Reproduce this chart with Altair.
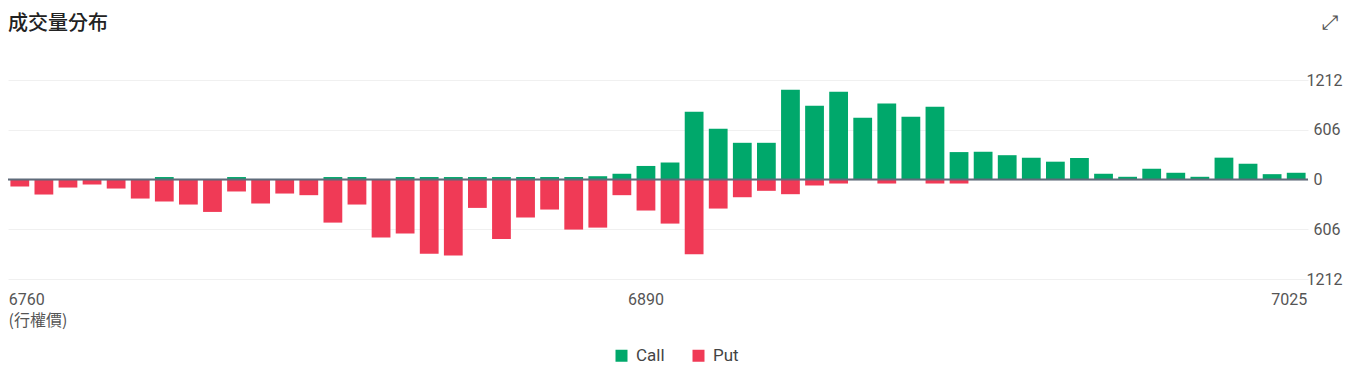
import altair as alt
import pandas as pd

strikes = list(range(6760, 7030, 5))
call_volume = [0, 0, 0, 0, 0, 0, 30, 0, 0, 30,
               0, 0, 0, 30, 30, 0, 30, 30, 30, 30,
               30, 30, 30, 30, 40, 70, 165, 207, 826, 618,
               447, 447, 1094, 899, 1070, 752, 927, 765, 887, 334,
               338, 296, 266, 217, 262, 70, 33, 131, 82, 33,
               266, 192, 65, 82]
put_volume = [85, 183, 98, 61, 110, 232, 268, 305, 395, 146,
              293, 171, 191, 525, 305, 708, 659, 903, 927, 346,
              724, 464, 366, 610, 586, 191, 378, 537, 911, 354,
              216, 138, 179, 73, 49, 0, 49, 0, 49, 49,
              0, 0, 0, 0, 0, 0, 0, 0, 0, 0,
              0, 0, 0, 0]
y_ticks = [-1212, -606, 0, 606, 1212]
x_label_values = [6760, 6890, 7025]
series = ["Call", "Put"]
series_colors = ["#00a86b", "#f03a56"]
title_text = ["成交量分布"]
icon_text = ["⤢"]

rows = []
for s, c, p in zip(strikes, call_volume, put_volume):
    rows.append({"strike": s, "type": "Call", "volume": c})
    rows.append({"strike": s, "type": "Put", "volume": -p})
df = pd.DataFrame(rows)

W, H = 1300, 199

x_enc = alt.X(
    "strike:O",
    sort="ascending",
    scale=alt.Scale(paddingInner=0.22, paddingOuter=0.1),
    axis=alt.Axis(
        values=x_label_values, title="(行權價)", labelAngle=0, ticks=False, tickSize=0,
        domain=False, grid=False, labelFont="Roboto", labelFontSize=16, labelColor="#555555",
        labelPadding=12, labelFlush=30, labelFlushOffset=11,
        titleFont="Noto Sans CJK TC", titleFontSize=16, titleFontWeight="normal",
        titleColor="#555555", titleAnchor="start", titleAlign="left", titlePadding=5,
    ),
)
y_enc = alt.Y(
    "volume:Q",
    stack=None,
    scale=alt.Scale(domain=[-1212, 1212], nice=False),
    axis=alt.Axis(
        orient="right", values=y_ticks, labelExpr="format(abs(datum.value), 'd')",
        title=None, ticks=False, domain=False, grid=True, gridColor="#f0f0f0",
        labelFont="Roboto", labelFontSize=16, labelColor="#555555",
        labelPadding={"condition": {"test": "abs(datum.value) == 1212", "value": -2}, "value": 5},
        labelAlign="left",
    ),
)

bars = alt.Chart(df).mark_bar().encode(
    x=x_enc,
    y=y_enc,
    color=alt.Color(
        "type:N",
        scale=alt.Scale(domain=series, range=series_colors),
        legend=alt.Legend(
            orient="none", legendX=605, legendY=267, direction="horizontal", title=None,
            symbolType="square", symbolSize=144, symbolStrokeWidth=0,
            labelFont="Roboto", labelFontSize=17, labelColor="#444444",
            labelOffset=6, columnPadding=25, padding=0,
        ),
    ),
)

zero_rule = alt.Chart(pd.DataFrame({"z": [0]})).mark_rule(
    color="#5f6b7a", strokeWidth=2
).encode(y=alt.datum(0))

title = alt.Chart(pd.DataFrame({"t": title_text})).mark_text(
    align="left", baseline="middle", font="Noto Sans CJK TC", fontSize=20,
    fontWeight=500, color="#222222"
).encode(x=alt.value(0), y=alt.value(-56), text="t:N")

icon = alt.Chart(pd.DataFrame({"t": icon_text})).mark_text(
    align="center", baseline="middle", font="DejaVu Sans", fontSize=20, color="#555555"
).encode(x=alt.value(1322), y=alt.value(-57), text="t:N")

chart = alt.layer(bars, zero_rule, title, icon).properties(
    width=W, height=H,
    autosize=alt.AutoSizeParams(type="none"),
    padding={"left": 0, "top": 72, "right": 40, "bottom": 90},
).configure_view(stroke=None)

chart.save("out.html", embed_options={"renderer": "svg", "actions": False})
